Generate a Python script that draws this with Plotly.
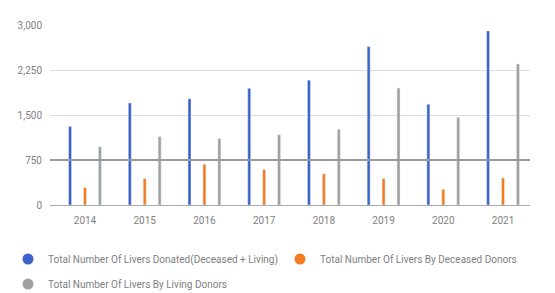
import plotly.graph_objects as go

years = ["2014", "2015", "2016", "2017", "2018", "2019", "2020", "2021"]
total_livers = [1310, 1700, 1770, 1945, 2080, 2640, 1680, 2900]
deceased_livers = [290, 440, 680, 590, 520, 440, 260, 450]
living_livers = [970, 1140, 1110, 1170, 1260, 1950, 1460, 2350]
tick_vals = [0, 750, 1500, 2250, 3000]
tick_text = ["0", "750", "1,500", "2,250", "3,000"]
names = ["Total Number Of Livers Donated(Deceased + Living)",
         "Total Number Of Livers By Deceased Donors",
         "Total Number Of Livers By Living Donors"]
colors = ["#3a62c9", "#f47c20", "#a0a0a0"]
legend_ids = ["legend", "legend3", "legend2"]

fig = go.Figure()
for vals, name, col in zip([total_livers, deceased_livers, living_livers], names, colors):
    fig.add_trace(go.Bar(x=years, y=vals, name=name, marker_color=col, showlegend=False))
for name, col, lg in zip(names, colors, legend_ids):
    fig.add_trace(go.Scatter(x=[None], y=[None], mode="markers", name=name, legend=lg,
                             marker=dict(color=col, size=11, symbol="circle")))

fig.add_shape(type="line", xref="paper", x0=0, x1=1, yref="y", y0=750, y1=750,
              line=dict(color="#9a9a9a", width=2), layer="above")

txt = "#808080"
legend_font = dict(family="Roboto, sans-serif", size=10, color=txt)
lx = -42 / 480
fig.update_layout(
    width=547, height=285,
    margin=dict(l=42, r=25, t=17, b=88, autoexpand=False),
    paper_bgcolor="white", plot_bgcolor="white",
    barmode="group", bargap=0.25, bargroupgap=0.8,
    font=dict(family="Roboto, sans-serif", size=10, color=txt),
    xaxis=dict(showgrid=False, tickfont=dict(size=10, color=txt), ticks="",
               ticklabelstandoff=8, range=[-0.586, 7.452]),
    yaxis=dict(range=[0, 3000], tickvals=tick_vals, ticktext=tick_text,
               gridcolor="#dddddd", gridwidth=1, zeroline=True, zerolinecolor="#aaaaaa",
               zerolinewidth=1, tickfont=dict(size=10, color=txt), ticks="",
               ticklabelstandoff=7),
    legend=dict(orientation="h", x=lx, xanchor="left", y=-0.30, yanchor="middle",
                font=legend_font, bgcolor="rgba(0,0,0,0)"),
    legend3=dict(orientation="h", x=(272 - 42) / 480, xanchor="left", y=-0.30, yanchor="middle",
                 font=legend_font, bgcolor="rgba(0,0,0,0)"),
    legend2=dict(orientation="h", x=lx, xanchor="left", y=-0.439, yanchor="middle",
                 font=legend_font, bgcolor="rgba(0,0,0,0)"),
    showlegend=True,
)
fig.write_html("out.html")
